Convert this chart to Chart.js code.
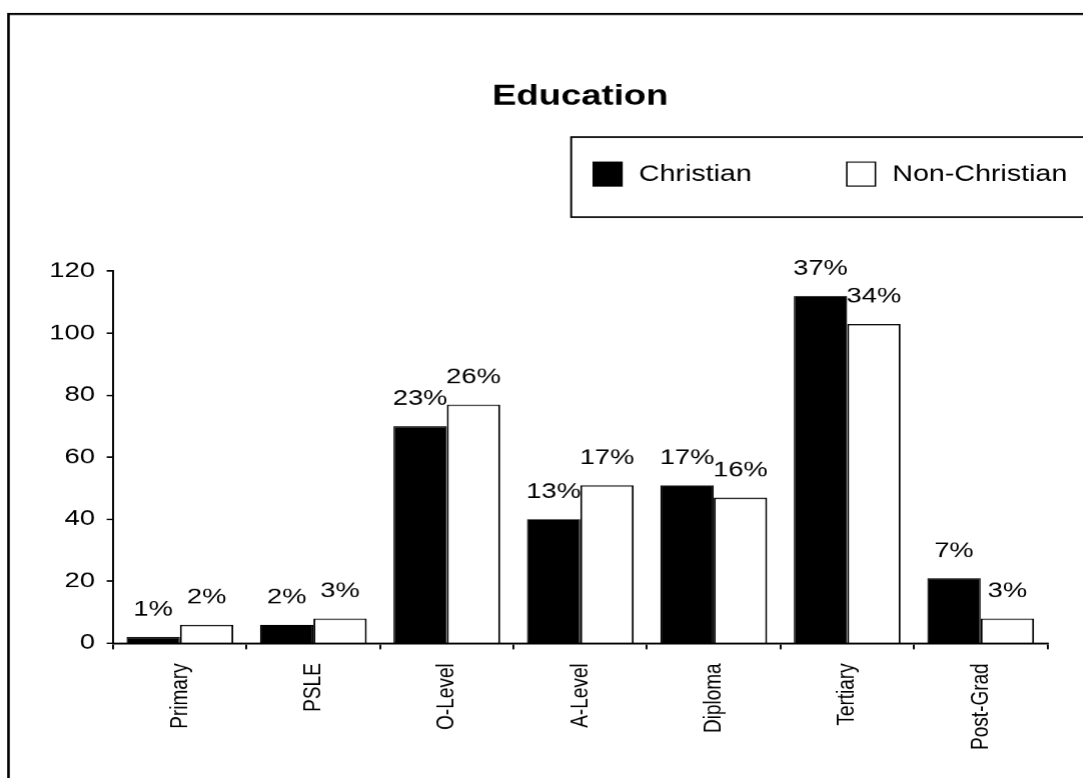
<!DOCTYPE html>
<html>
<head>
<meta charset="utf-8">
<title>Education</title>
<script src="https://cdn.jsdelivr.net/npm/chart.js@4/dist/chart.umd.min.js"></script>
<style>
  html, body { margin: 0; padding: 0; background: #fff; overflow: hidden; }
  /* draw on a narrower canvas and stretch it sideways for the wide lettering */
  #wrap { width: 833px; height: 778px; transform: scaleX(1.3); transform-origin: 0 0; }
</style>
</head>
<body>
<div id="wrap"><canvas id="eduChart" width="833" height="778"></canvas></div>
<script>
// Education level counts
const levels = ["Primary", "PSLE", "O-Level", "A-Level", "Diploma", "Tertiary", "Post-Grad"];
const christian = [2, 6, 70, 40, 51, 112, 21];
const nonChristian = [6, 8, 77, 51, 47, 103, 8];
const yTicks = [0, 20, 40, 60, 80, 100, 120];

// share of each group's total, shown above the bars
function shares(values) {
  const total = values.reduce((a, b) => a + b, 0);
  return values.map((v) => Math.round((v / total) * 100) + "%");
}

const FONT = "'Liberation Sans', Arial, sans-serif";

// outer frame of the sheet
const framePlugin = {
  id: "frame",
  beforeDraw(chart) {
    const ctx = chart.ctx;
    ctx.save();
    ctx.fillStyle = "#fff";
    ctx.fillRect(0, 0, chart.width, chart.height);
    ctx.strokeStyle = "#000";
    ctx.lineWidth = 2;
    ctx.strokeRect(6.5, 14, 1000, 1000);
    ctx.restore();
  },
};

// boxed legend, items spaced out in one row
const boxLegendPlugin = {
  id: "boxLegend",
  afterDraw(chart) {
    const ctx = chart.ctx;
    ctx.save();
    ctx.strokeStyle = "#000";
    ctx.lineWidth = 1.5;
    ctx.strokeRect(439, 137, 500, 80);

    ctx.font = "22px " + FONT;
    ctx.textBaseline = "middle";
    ctx.textAlign = "left";
    let x = 456;
    const midY = 174;
    chart.data.datasets.forEach((ds) => {
      ctx.fillStyle = ds.backgroundColor;
      ctx.fillRect(x, midY - 12, 22, 24);
      ctx.lineWidth = 1.2;
      ctx.strokeStyle = "#000";
      ctx.strokeRect(x, midY - 12, 22, 24);
      ctx.fillStyle = "#000";
      const tx = x + 22 + 13;
      ctx.fillText(ds.label, tx, midY + 1);
      x = tx + ctx.measureText(ds.label).width + 73;
    });
    ctx.restore();
  },
};

// percentage labels above each bar
const shareLabelsPlugin = {
  id: "shareLabels",
  afterDatasetsDraw(chart) {
    const ctx = chart.ctx;
    ctx.save();
    ctx.font = "21px " + FONT;
    ctx.fillStyle = "#000";
    ctx.textAlign = "center";
    ctx.textBaseline = "middle";
    chart.data.datasets.forEach((ds, i) => {
      const labels = shares(ds.data);
      chart.getDatasetMeta(i).data.forEach((bar, j) => {
        ctx.fillText(labels[j], bar.x, bar.y - 27);
      });
    });
    ctx.restore();
  },
};

const ctx = document.getElementById("eduChart").getContext("2d");
new Chart(ctx, {
  type: "bar",
  data: {
    labels: levels,
    datasets: [
      {
        label: "Christian",
        data: christian,
        backgroundColor: "#000",
        borderColor: "#000",
        borderWidth: 1,
      },
      {
        label: "Non-Christian",
        data: nonChristian,
        backgroundColor: "#fff",
        borderColor: "#000",
        borderWidth: 1.5,
      },
    ],
  },
  options: {
    responsive: false,
    animation: false,
    devicePixelRatio: 1.3,
    layout: { padding: { top: 0, left: 0, right: 28, bottom: 0 } },
    datasets: {
      bar: { categoryPercentage: 0.8, barPercentage: 1.0 },
    },
    plugins: {
      legend: { display: false },
      tooltip: { enabled: false },
      title: {
        display: true,
        text: "Education",
        fullSize: false,
        color: "#000",
        font: { family: FONT, size: 28, weight: "bold" },
        padding: { top: 80, bottom: 157.5 },
      },
    },
    scales: {
      x: {
        grid: {
          display: true,
          offset: true,
          drawOnChartArea: false,
          color: "#000",
          lineWidth: 1.5,
          tickLength: 6,
        },
        border: { display: true, color: "#000", width: 2 },
        ticks: {
          color: "#000",
          font: { family: FONT, size: 19 },
          minRotation: 90,
          maxRotation: 90,
          autoSkip: false,
          padding: 14,
        },
        afterFit(scale) {
          scale.height = 135;
        },
      },
      y: {
        min: 0,
        max: 120,
        afterBuildTicks(scale) {
          scale.ticks = yTicks.map((v) => ({ value: v }));
        },
        grid: {
          display: true,
          drawOnChartArea: false,
          color: "#000",
          lineWidth: 1.5,
          tickLength: 5,
        },
        border: { display: true, color: "#000", width: 1.5 },
        ticks: {
          color: "#000",
          font: { family: FONT, size: 21 },
          padding: 9,
        },
        afterFit(scale) {
          scale.width = 87;
        },
      },
    },
  },
  plugins: [framePlugin, boxLegendPlugin, shareLabelsPlugin],
});
</script>
</body>
</html>
